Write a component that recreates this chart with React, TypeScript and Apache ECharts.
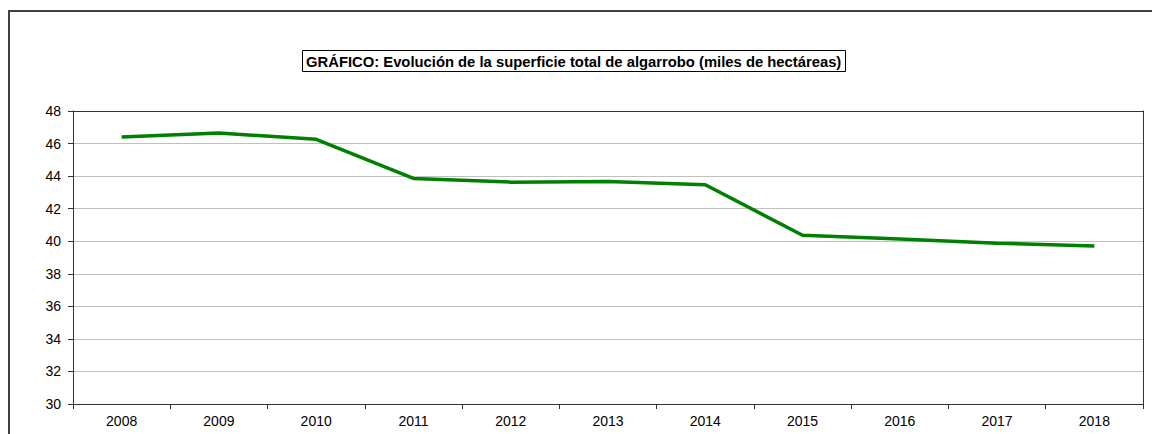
import React, { useEffect, useRef } from "react";
import * as echarts from "echarts";

const years = ["2008", "2009", "2010", "2011", "2012", "2013", "2014", "2015", "2016", "2017", "2018"];
const superficie = [46.4, 46.65, 46.26, 43.86, 43.63, 43.67, 43.47, 40.37, 40.14, 39.88, 39.71];
const titleText = "GRÁFICO: Evolución de la superficie total de algarrobo (miles de hectáreas)";
const yMin = 30;
const yMax = 48;
const yStep = 2;

const FONT = "'Liberation Sans', Arial, sans-serif";

export default function App() {
  const ref = useRef<HTMLDivElement>(null);
  useEffect(() => {
    document.body.style.margin = "0";
    document.documentElement.style.overflow = "hidden";
    document.body.style.overflow = "hidden";
    if (!ref.current) return;
    const chart = echarts.init(ref.current, null, { renderer: "svg" });
    chart.setOption({
      animation: false,
      backgroundColor: "#ffffff",
      textStyle: { fontFamily: FONT },
      title: {
        text: titleText,
        left: 302,
        top: 50,
        padding: [4, 4, 3, 4],
        borderColor: "#000000",
        borderWidth: 1,
        textStyle: { fontFamily: FONT, fontSize: 14.8, fontWeight: "bold", color: "#000000" },
      },
      graphic: [
        {
          type: "polyline",
          shape: { points: [[9, 440], [9, 11], [1160, 11]] },
          style: { fill: "none", stroke: "#404040", lineWidth: 2 },
          silent: true,
        },
      ],
      grid: {
        left: 73,
        right: 9,
        top: 111,
        bottom: 30,
        show: false,
      },
      xAxis: [
        {
          type: "category",
          data: years,
          boundaryGap: true,
          axisLine: { show: true, lineStyle: { color: "#333333", width: 1 } },
          axisTick: { show: true, length: 5, alignWithLabel: false, lineStyle: { color: "#333333" } },
          axisLabel: { color: "#000000", fontSize: 14, fontFamily: FONT, margin: 10, interval: 0 },
          splitLine: { show: false },
        },
        {
          type: "category",
          data: years,
          position: "top",
          axisLine: { show: true, lineStyle: { color: "#333333", width: 1 } },
          axisTick: { show: false },
          axisLabel: { show: false },
          splitLine: { show: false },
        },
      ],
      yAxis: [
        {
          type: "value",
          min: yMin,
          max: yMax,
          interval: yStep,
          axisLine: { show: true, lineStyle: { color: "#333333", width: 1 } },
          axisTick: { show: true, length: 5, lineStyle: { color: "#333333" } },
          axisLabel: { color: "#000000", fontSize: 14, fontFamily: FONT, margin: 12 },
          splitLine: { show: true, lineStyle: { color: "#c0c0c0", width: 1 } },
        },
        {
          type: "value",
          min: yMin,
          max: yMax,
          interval: yStep,
          position: "right",
          axisLine: { show: true, lineStyle: { color: "#333333", width: 1 } },
          axisTick: { show: false },
          axisLabel: { show: false },
          splitLine: { show: false },
        },
      ],
      series: [
        {
          type: "line",
          data: superficie,
          showSymbol: false,
          symbol: "none",
          lineStyle: { color: "#008000", width: 3.5 },
          itemStyle: { color: "#008000" },
        },
      ],
    });
    return () => chart.dispose();
  }, []);
  return <div ref={ref} style={{ width: 1152, height: 434 }} />;
}
